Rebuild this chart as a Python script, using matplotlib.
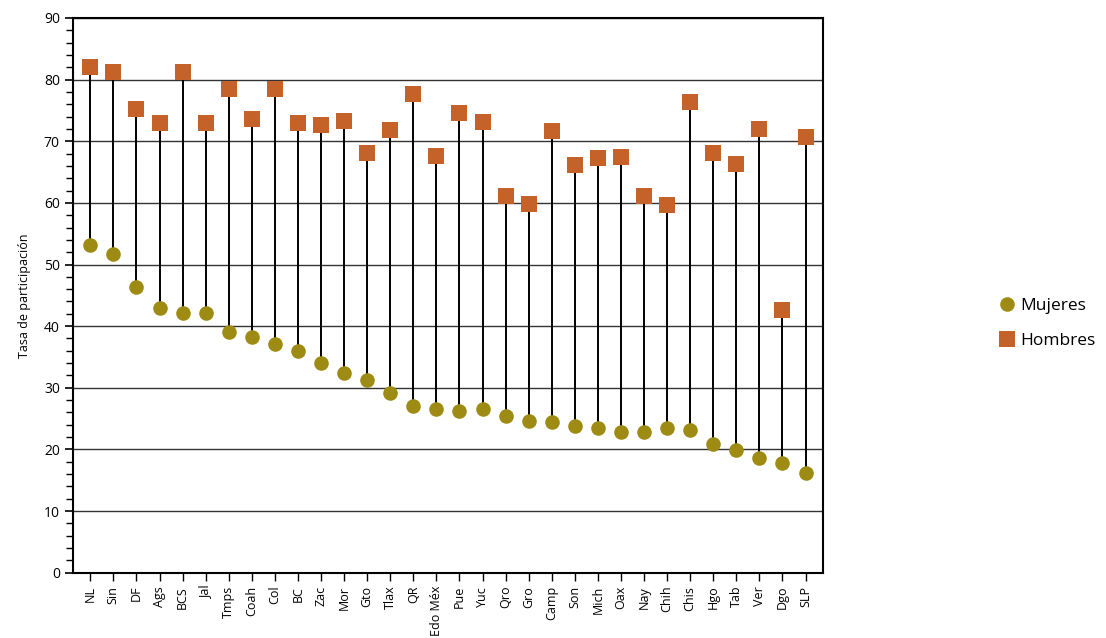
import matplotlib
matplotlib.use("Agg")
import matplotlib.pyplot as plt
import numpy as np
from matplotlib.ticker import MultipleLocator

plt.rcParams['font.family'] = ['Open Sans', 'DejaVu Sans']

states = ["NL", "Sin", "DF", "Ags", "BCS", "Jal", "Tmps", "Coah", "Col", "BC",
          "Zac", "Mor", "Gto", "Tlax", "QR", "Edo Méx", "Pue", "Yuc", "Qro", "Gro",
          "Camp", "Son", "Mich", "Oax", "Nay", "Chih", "Chis", "Hgo", "Tab", "Ver",
          "Dgo", "SLP"]
mujeres = [53.1, 51.7, 46.4, 43.0, 42.2, 42.2, 39.1, 38.2, 37.1, 35.9,
           34.0, 32.4, 31.2, 29.1, 27.1, 26.6, 26.3, 26.5, 25.5, 24.6,
           24.4, 23.8, 23.5, 22.9, 22.9, 23.4, 23.1, 20.8, 19.9, 18.6,
           17.8, 16.2]
hombres = [82.1, 81.3, 75.2, 73.0, 81.3, 73.0, 78.5, 73.6, 78.5, 73.0,
           72.6, 73.3, 68.1, 71.8, 77.7, 67.6, 74.6, 73.1, 61.1, 59.8,
           71.7, 66.1, 67.3, 67.4, 61.1, 59.6, 76.4, 68.1, 66.3, 72.0,
           42.6, 70.7]

c_muj = "#9E8B14"
c_hom = "#C4622A"

fig = plt.figure(figsize=(11.06, 6.38), dpi=100)
ax = fig.add_axes([0.066, 0.1024, 0.678, 0.8694])

x = np.arange(len(states))
for i in x:
    ax.plot([i, i], [mujeres[i], hombres[i]], color="black", lw=1.4, zorder=2)
ax.plot(x, mujeres, linestyle="none", marker="o", ms=10.5, color=c_muj,
        markeredgewidth=0, zorder=3, label="Mujeres")
ax.plot(x, hombres, linestyle="none", marker="s", ms=11, color=c_hom,
        markeredgewidth=0, zorder=3, label="Hombres")

ax.set_xlim(-0.75, len(states) - 0.25)
ax.set_ylim(0, 90)
ax.yaxis.set_major_locator(MultipleLocator(10))
ax.yaxis.set_minor_locator(MultipleLocator(2))
ax.grid(axis="y", which="major", color="#333333", lw=1.0, zorder=1)
ax.set_axisbelow(True)

ax.set_xticks(x)
ax.set_xticklabels(states, rotation=90, fontsize=9)
ax.tick_params(axis="y", which="major", length=6, width=1.2, labelsize=10, direction="out")
ax.tick_params(axis="y", which="minor", length=5, width=1.0, direction="out")
ax.tick_params(axis="x", length=6, width=1.0, direction="out")
for s in ax.spines.values():
    s.set_linewidth(1.5)
    s.set_color("black")

ax.set_ylabel("Tasa de participación", fontsize=9, labelpad=9)

fig.legend(loc="center left", bbox_to_anchor=(0.896, 0.493), frameon=False,
           fontsize=12.5, handletextpad=0.3, labelspacing=1.05, handlelength=1.0,
           borderaxespad=0)

fig.savefig("out.png", dpi=100)
